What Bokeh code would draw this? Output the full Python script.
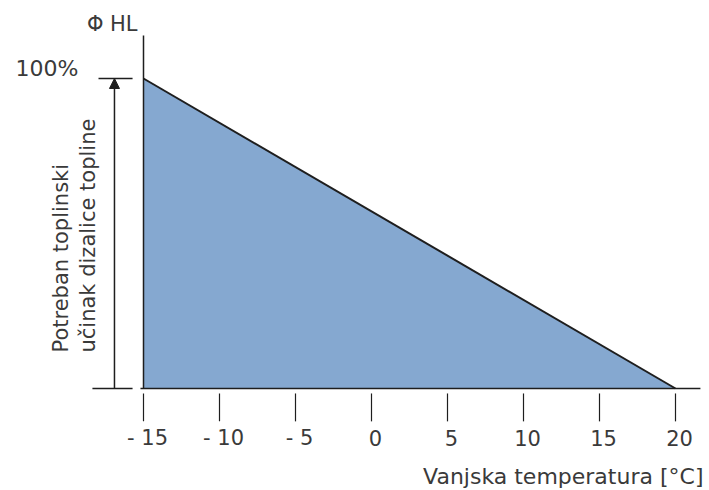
from bokeh.plotting import figure
from bokeh.models import Arrow, NormalHead
from bokeh.core.properties import value
from bokeh.embed import file_html
from bokeh.resources import INLINE

# data
temps = [-15, 20]
load = [100, 0]
tick_vals = [-15, -10, -5, 0, 5, 10, 15, 20]
tick_labels = ["- 15", "- 10", "- 5", "0", "5", "10", "15", "20"]

FONT = value("DejaVu Sans")
TXT = "#3a3a3a"
LINE = "#1e1e1e"

p = figure(width=709, height=490, x_range=(-24.408, 22.237), y_range=(-32.903, 125.161),
           x_axis_type=None, y_axis_type=None, toolbar_location=None,
           output_backend="svg", min_border=0)
p.outline_line_color = None
p.grid.visible = False

# filled triangle
xs = [temps[0], temps[0], temps[1]]
ys = [0, load[0], load[1]]
p.patch(xs, ys, fill_color="#85a8d0", line_color=None)
p.line(temps, load, line_color=LINE, line_width=2)

# axes lines
p.segment(x0=[-15], y0=[0], x1=[-15], y1=[113.9], line_color=LINE, line_width=1.5)
p.segment(x0=[-15.2], y0=[0], x1=[21.64], y1=[0], line_color=LINE, line_width=1.5)
p.segment(x0=[-18.36], y0=[0], x1=[-15.72], y1=[0], line_color=LINE, line_width=1.5)

# x ticks
n = len(tick_vals)
p.segment(x0=tick_vals, y0=[-1.6] * n, x1=tick_vals, y1=[-10.6] * n,
          line_color=LINE, line_width=1.2)
p.text(x=tick_vals, y=[-15.81] * n, text=tick_labels, text_align="center",
       text_baseline="alphabetic", x_offset=4, text_font=FONT, text_font_size="21px",
       text_color=TXT)

# 100% arrow
p.segment(x0=[-17.96], y0=[100], x1=[-15.72], y1=[100], line_color=LINE, line_width=1.5)
p.add_layout(Arrow(x_start=-16.91, y_start=0, x_end=-16.91, y_end=100, line_color=LINE,
                   line_width=1.5,
                   end=NormalHead(size=10, fill_color=LINE, line_color=LINE)))

p.text(x=[-19.28], y=[103.2], text=["100%"], text_align="right", text_baseline="alphabetic",
       text_font=FONT, text_font_size="22px", text_color=TXT)
p.text(x=[-15.39], y=[117.74], text=["Φ HL"], text_align="right", text_baseline="alphabetic",
       text_font=FONT, text_font_size="21px", text_color=TXT)

# rotated y label
p.text(x=[-20.46, -18.68], y=[11.61, 11.61], text=["Potreban toplinski", "učinak dizalice topline"],
       angle=1.5708, text_align="left", text_baseline="alphabetic", text_font=FONT,
       text_font_size="21px", text_color=TXT)

# x label
p.text(x=[21.84], y=[-28.39], text=["Vanjska temperatura [°C]"], text_align="right",
       text_baseline="alphabetic", text_font=FONT, text_font_size="22px", text_color=TXT)

open("out.html", "w").write(file_html(p, INLINE))
